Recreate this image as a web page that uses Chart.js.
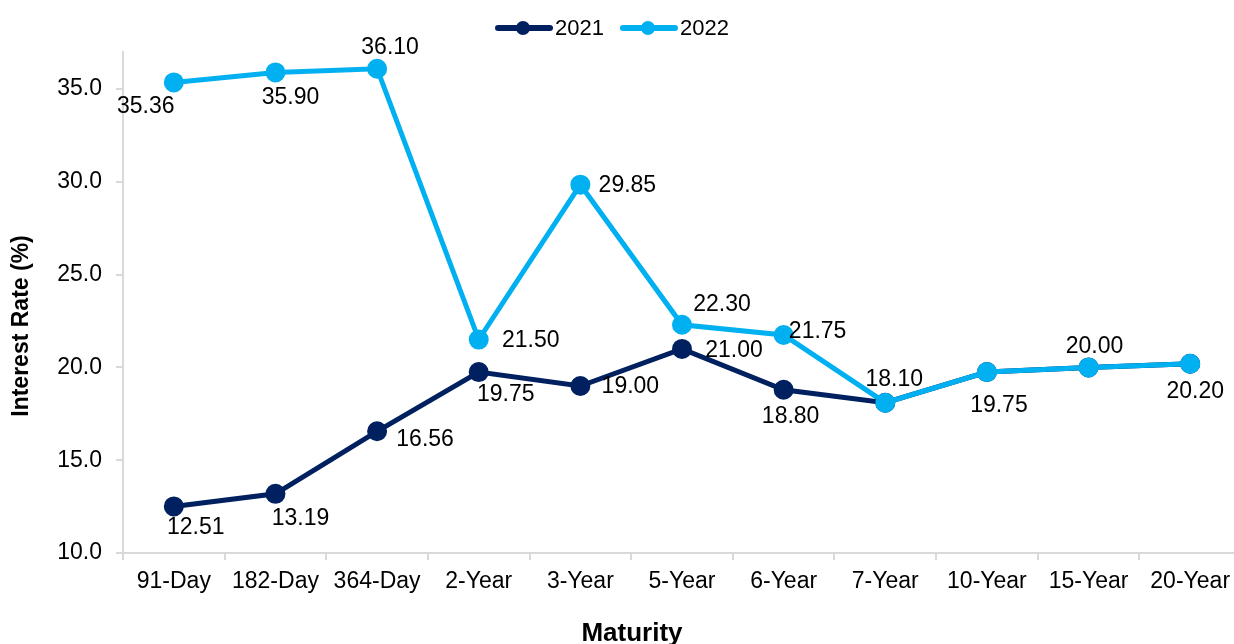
<!DOCTYPE html>
<html>
<head>
<meta charset="utf-8">
<script src="https://cdn.jsdelivr.net/npm/chart.js@4.4.1/dist/chart.umd.min.js"></script>
<style>
  html, body { margin: 0; padding: 0; background: #fff; overflow: hidden; }
  #wrap { width: 1260px; height: 644px; }
</style>
</head>
<body>
<div id="wrap"><canvas id="curva" width="1260" height="644"></canvas></div>
<script>
// maturities on the x axis
const maturities = ['91-Day', '182-Day', '364-Day', '2-Year', '3-Year', '5-Year', '6-Year', '7-Year', '10-Year', '15-Year', '20-Year'];
// interest rates (%)
const rates2021 = [12.51, 13.19, 16.56, 19.75, 19.00, 21.00, 18.80, 18.10, 19.75, 20.00, 20.20];
const rates2022 = [35.36, 35.90, 36.10, 21.50, 29.85, 22.30, 21.75, 18.10, 19.75, 20.00, 20.20];
const yTicks = [10, 15, 20, 25, 30, 35];

// where each value label sits relative to its point (null = no label)
const labelOffset2021 = [[22, 21], [25, 25], [48, 8], [27, 23], [50, 1], [52, 2], [7, 27], null, null, null, null];
const labelOffset2022 = [[-28, 24], [15, 25], [13, -21], [52, 1], [47, 1], [40, -20], [34, -3], [9, -23], [12, 34], [6, -21], [5, 28]];

const FONT = '"Liberation Sans", Arial, sans-serif';
const GRIS = '#d9d9d9';

const rotulos = {
  id: 'rotulos',
  afterDatasetsDraw(chart) {
    const ctx = chart.ctx;
    ctx.save();
    ctx.font = '23px ' + FONT;
    ctx.fillStyle = '#000';
    ctx.textAlign = 'center';
    ctx.textBaseline = 'middle';
    chart.data.datasets.forEach((ds, i) => {
      const meta = chart.getDatasetMeta(i);
      meta.data.forEach((pt, j) => {
        const off = ds.offsets[j];
        if (!off) return;
        ctx.fillText(ds.data[j].toFixed(2), pt.x + off[0], pt.y + off[1]);
      });
    });
    ctx.restore();
  }
};

// legend and axis titles, placed like the original
const extras = {
  id: 'extras',
  afterDraw(chart) {
    const ctx = chart.ctx;
    ctx.save();
    ctx.font = '22px ' + FONT;
    ctx.textBaseline = 'middle';
    ctx.textAlign = 'left';
    let x = 496;
    const y = 28;
    chart.data.datasets.forEach(ds => {
      ctx.strokeStyle = ds.borderColor;
      ctx.lineWidth = 6;
      ctx.lineCap = 'round';
      ctx.beginPath();
      ctx.moveTo(x + 2, y);
      ctx.lineTo(x + 54, y);
      ctx.stroke();
      ctx.fillStyle = ds.borderColor;
      ctx.beginPath();
      ctx.arc(x + 27, y, 7, 0, Math.PI * 2);
      ctx.fill();
      ctx.fillStyle = '#000';
      ctx.fillText(ds.label, x + 59, y + 1);
      x += 59 + ctx.measureText(ds.label).width + 17;
    });

    ctx.fillStyle = '#000';
    ctx.textAlign = 'center';
    ctx.font = 'bold 26px ' + FONT;
    ctx.textBaseline = 'alphabetic';
    ctx.fillText('Maturity', 632, 641);

    ctx.font = 'bold 23px ' + FONT;
    ctx.textBaseline = 'middle';
    ctx.translate(22, 326);
    ctx.rotate(-Math.PI / 2);
    ctx.fillText('Interest Rate (%)', 0, 0);
    ctx.restore();
  }
};

new Chart(document.getElementById('curva').getContext('2d'), {
  type: 'line',
  data: {
    labels: maturities,
    datasets: [
      { label: '2021', data: rates2021, offsets: labelOffset2021, order: 2,
        borderColor: '#002060', backgroundColor: '#002060',
        borderWidth: 5, pointRadius: 7.5, pointHoverRadius: 7.5, fill: false },
      { label: '2022', data: rates2022, offsets: labelOffset2022, order: 1,
        borderColor: '#00B0F0', backgroundColor: '#00B0F0',
        borderWidth: 5, pointRadius: 7.5, pointHoverRadius: 7.5, fill: false }
    ]
  },
  options: {
    responsive: false,
    animation: false,
    layout: { padding: { top: 52, left: 0, right: 19, bottom: 0 } },
    plugins: { legend: { display: false }, tooltip: { enabled: false } },
    scales: {
      x: {
        offset: true,
        grid: { offset: true, drawOnChartArea: false, drawTicks: true, tickLength: 7, color: GRIS, lineWidth: 2 },
        border: { color: GRIS, width: 2 },
        ticks: { font: { family: FONT, size: 23 }, color: '#000', padding: 8, maxRotation: 0, autoSkip: false },
        afterFit(scale) { scale.height = 91; }
      },
      y: {
        min: 10, max: 37,
        afterBuildTicks(scale) { scale.ticks = yTicks.map(v => ({ value: v })); },
        grid: { drawOnChartArea: false, drawTicks: true, tickLength: 7, color: GRIS, lineWidth: 2 },
        border: { color: GRIS, width: 2 },
        ticks: { font: { family: FONT, size: 23 }, color: '#000', padding: 14, callback: v => v.toFixed(1) },
        afterFit(scale) { scale.width = 123; }
      }
    }
  },
  plugins: [rotulos, extras]
});
</script>
</body>
</html>
